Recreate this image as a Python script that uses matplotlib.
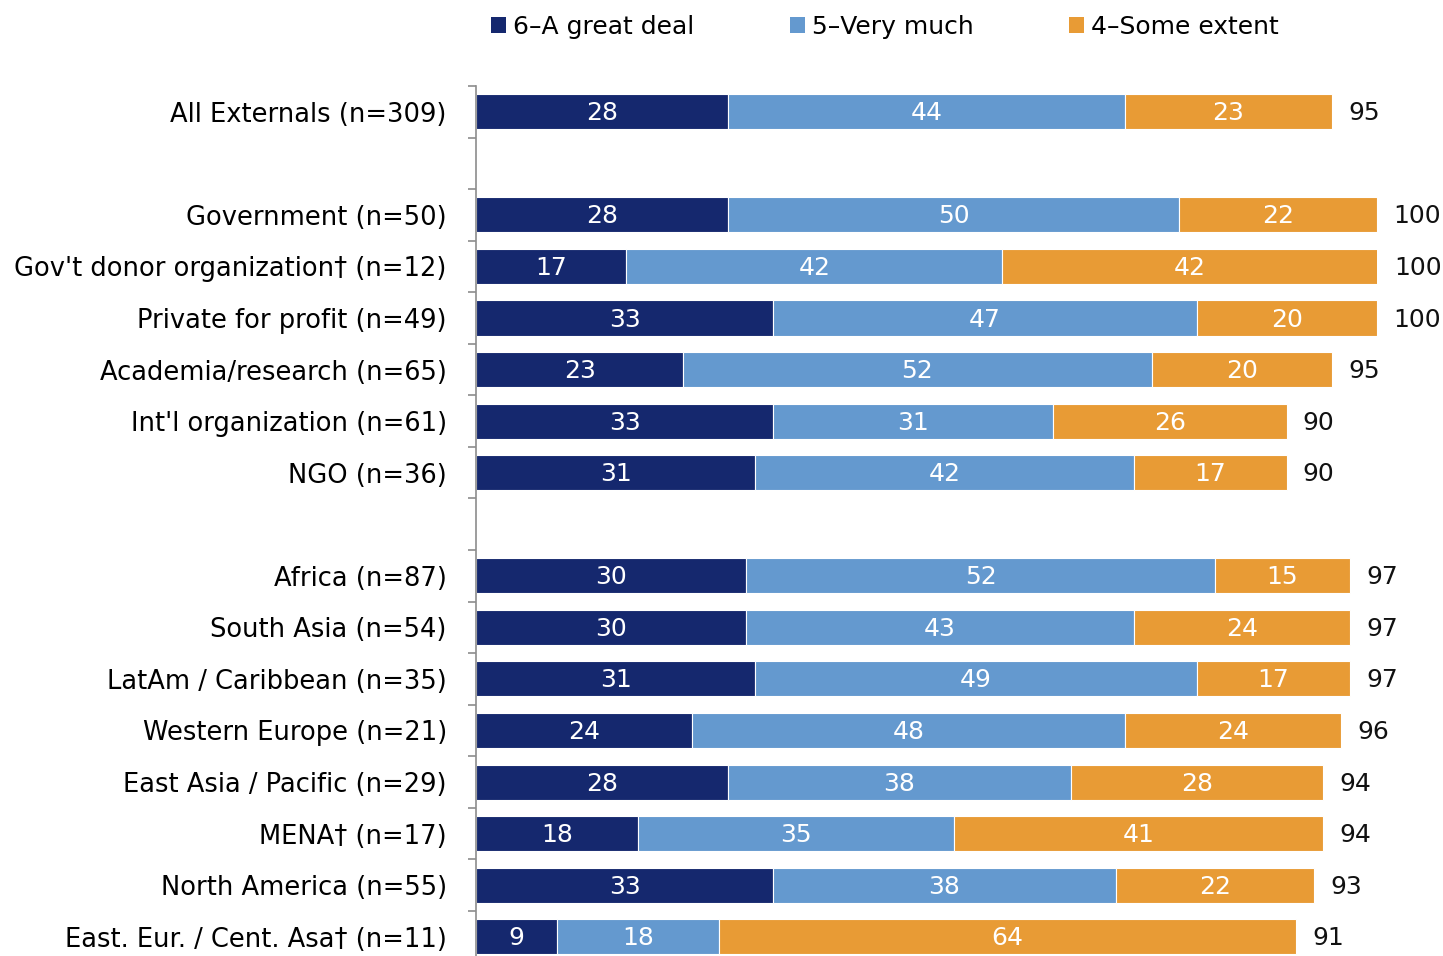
import numpy as np
import matplotlib
matplotlib.use("Agg")
import matplotlib.pyplot as plt
from matplotlib.patches import Patch

# Datos (None = fila vacía de separación)
labels = ["All Externals (n=309)", "",
          "Government (n=50)", "Gov't donor organization\u2020 (n=12)",
          "Private for profit (n=49)", "Academia/research (n=65)",
          "Int'l organization (n=61)", "NGO (n=36)", "",
          "Africa (n=87)", "South Asia (n=54)", "LatAm / Caribbean (n=35)",
          "Western Europe (n=21)", "East Asia / Pacific (n=29)",
          "MENA\u2020 (n=17)", "North America (n=55)",
          "East. Eur. / Cent. Asa\u2020 (n=11)"]
great_deal = [28, None, 28, 16.7, 33, 23, 33, 31, None, 30, 30, 31, 24, 28, 18, 33, 9]
very_much = [44, None, 50, 41.7, 47, 52, 31, 42, None, 52, 43, 49, 48, 38, 35, 38, 18]
some_extent = [23, None, 22, 41.7, 20, 20, 26, 17, None, 15, 24, 17, 24, 28, 41, 22, 64]
totals = [95, None, 100, 100, 100, 95, 90, 90, None, 97, 97, 97, 96, 94, 94, 93, 91]

series_names = ["6\u2013A great deal", "5\u2013Very much", "4\u2013Some extent"]
colors = ["#15286E", "#6499CF", "#E89B35"]

plt.rcParams['font.family'] = ['DejaVu Sans']
fs = 18

W, H = 1443, 956
fig = plt.figure(figsize=(W / 100, H / 100), dpi=100)
n = len(labels)
row_px = 51.56
top_px = 86
ax = fig.add_axes([476 / W, 1 - (top_px + n * row_px) / H, 901 / W, n * row_px / H])

y = np.arange(n)
for i in range(n):
    if great_deal[i] is None:
        continue
    left = 0
    for val, col in zip([great_deal[i], very_much[i], some_extent[i]], colors):
        ax.barh(y[i], val, left=left, height=0.68, color=col, edgecolor="white", linewidth=0.8)
        ax.text(left + val / 2, y[i] + 0.03, f"{val:.0f}", ha="center", va="center",
                color="white", fontsize=fs)
        left += val
    ax.annotate(f"{totals[i]}", xy=(left, y[i] + 0.03), xytext=(11.5, 0), textcoords="offset points",
                ha="left", va="center", fontsize=fs, color="#111111", annotation_clip=False)

ax.set_xlim(0, 100)
ax.set_ylim(n - 0.5, -0.5)
ax.set_yticks(y)
ax.set_yticklabels(labels, fontsize=18.5)
ax.tick_params(axis="y", which="major", length=0, pad=21)
ax.set_yticks(np.arange(n + 1) - 0.5, minor=True)
ax.tick_params(axis="y", which="minor", length=6, color="#8c8c8c", width=1.2)
ax.set_xticks([])
for s in ["top", "right", "bottom"]:
    ax.spines[s].set_visible(False)
ax.spines["left"].set_color("#8c8c8c")
ax.spines["left"].set_linewidth(1.2)

handles = [Patch(facecolor=c, label=l) for c, l in zip(colors, series_names)]
fig.legend(handles=handles, loc="center", bbox_to_anchor=(885 / W, 1 - 27 / H), ncol=3,
           frameon=False, fontsize=fs, handlelength=0.6, handleheight=0.6,
           handletextpad=0.3, columnspacing=3.8)

fig.savefig("out.png", dpi=100)
